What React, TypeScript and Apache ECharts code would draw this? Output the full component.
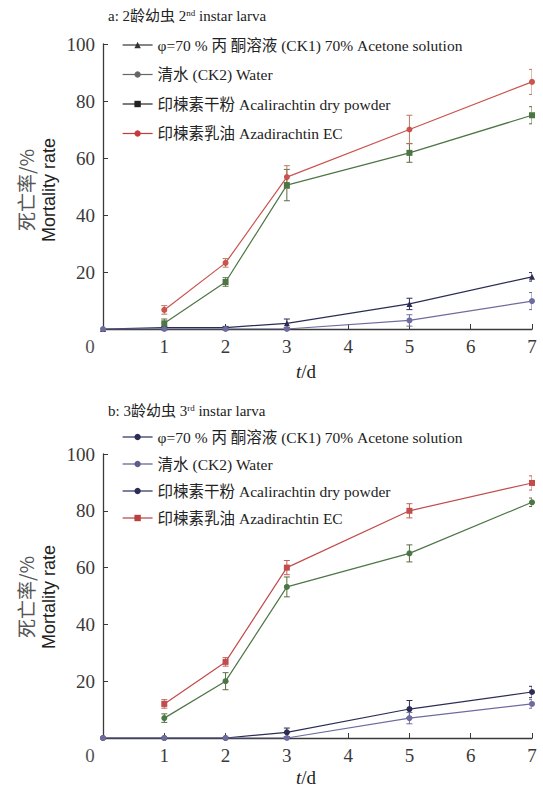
import React, { useEffect, useRef } from 'react';
import * as echarts from 'echarts';

const days = [1, 2, 3, 5, 7];
const ckDays = [0, 1, 2, 3, 5, 7];

const legendLabels = [
  'φ=70 % 丙 酮溶液 (CK1) 70% Acetone solution',
  '清水 (CK2) Water',
  '印楝素干粉 Acalirachtin dry powder',
  '印楝素乳油 Azadirachtin EC',
];

// Panel a: 2nd instar larva
const aCK1 = [0, 0.5, 0.5, 2, 8.8, 18.3];
const aCK1Err = [0, 0.4, 0.4, 1.5, 2, 1.5];
const aCK2 = [0, 0, 0, 0, 3, 9.8];
const aCK2Err = [0, 0, 0, 0.5, 2, 3];
const aPowder = [2, 16.5, 50.5, 61.8, 75];
const aPowderErr = [1.5, 1.5, 5.5, 3.3, 3];
const aEC = [6.7, 23.2, 53.3, 70, 86.7];
const aECErr = [1.5, 1.5, 4, 5, 4.4];

// Panel b: 3rd instar larva
const bCK1 = [0, 0, 0, 2, 10.2, 16.2];
const bCK1Err = [0, 0, 0, 1.5, 3, 2];
const bCK2 = [0, 0, 0, 0, 7, 12];
const bCK2Err = [0, 0, 0, 0.5, 2, 1.5];
const bPowder = [7, 20, 53.2, 65, 83];
const bPowderErr = [1.5, 3, 3.5, 3, 1.5];
const bEC = [12, 26.8, 60, 80, 89.8];
const bECErr = [1.5, 1.5, 2.5, 2.5, 2.5];

const SERIF = "'Liberation Serif', 'Noto Sans CJK SC', serif";
const SANS = "'Liberation Sans', 'DejaVu Sans', sans-serif";

function lineSeries(name: string, xs: number[], ys: number[], color: string, symbol: string, gi: number) {
  return {
    type: 'line',
    name,
    xAxisIndex: gi,
    yAxisIndex: gi,
    data: xs.map((x, i) => [x, ys[i]]),
    symbol,
    symbolSize: 6,
    lineStyle: { color, width: 1.2 },
    itemStyle: { color },
    z: 4,
  };
}

function errSeries(name: string, xs: number[], ys: number[], errs: number[], color: string, gi: number) {
  return {
    type: 'custom',
    name,
    xAxisIndex: gi,
    yAxisIndex: gi,
    silent: true,
    clip: true,
    z: 3,
    data: xs
      .map((x, i) => [x, Math.max(0, ys[i] - errs[i]), ys[i] + errs[i]])
      .filter((d) => d[2] - d[1] > 0.3),
    encode: { x: 0, y: [1, 2] },
    renderItem: (params: any, api: any) => {
      const x = api.value(0);
      const lo = api.value(1);
      const hi = api.value(2);
      const p1 = api.coord([x, lo]);
      const p2 = api.coord([x, hi]);
      const w = 3;
      const style = { stroke: color, lineWidth: 1 };
      return {
        type: 'group',
        children: [
          { type: 'line', shape: { x1: p1[0], y1: p1[1], x2: p2[0], y2: p2[1] }, style },
          { type: 'line', shape: { x1: p1[0] - w, y1: p1[1], x2: p1[0] + w, y2: p1[1] }, style },
          { type: 'line', shape: { x1: p2[0] - w, y1: p2[1], x2: p2[0] + w, y2: p2[1] }, style },
        ],
      };
    },
  };
}

function axes(gi: number) {
  const axisLine = { show: true, lineStyle: { color: '#3a3a3a', width: 1.3 } };
  const axisTick = { show: true, inside: true, length: 5, lineStyle: { color: '#3a3a3a' } };
  const label = { fontFamily: SERIF, fontSize: 19, color: '#3a3a3a', margin: 8 };
  return {
    x: {
      type: 'value', gridIndex: gi, min: 0, max: 7, interval: 1,
      axisLine, axisTick, splitLine: { show: false },
      axisLabel: { ...label, formatter: (v: number) => (v === 0 ? '' : String(v)) },
    },
    y: {
      type: 'value', gridIndex: gi, min: 0, max: 100, interval: 20,
      axisLine, axisTick, splitLine: { show: false },
      axisLabel: { ...label, formatter: (v: number) => (v === 0 ? '' : String(v)) },
    },
  };
}

const App = () => {
  const ref = useRef<HTMLDivElement>(null);
  useEffect(() => {
    if (!ref.current) return;
    const chart = echarts.init(ref.current, undefined, { renderer: 'svg' });
    const ax0 = axes(0);
    const ax1 = axes(1);

    const aColors = { ck1: '#2b2d55', ck2: '#6e6c9e', powder: '#4d7645', ec: '#c9534f' };
    const bColors = { ck1: '#2b2d55', ck2: '#6e6c9e', powder: '#4d7645', ec: '#c24b4b' };

    const series: any[] = [
      errSeries('a-e1', ckDays, aCK1, aCK1Err, '#2b2d55', 0),
      errSeries('a-e2', ckDays, aCK2, aCK2Err, '#6e6c9e', 0),
      errSeries('a-e3', days, aPowder, aPowderErr, '#5a6e40', 0),
      errSeries('a-e4', days, aEC, aECErr, '#b87a5e', 0),
      lineSeries('a:' + legendLabels[0], ckDays, aCK1, aColors.ck1, 'triangle', 0),
      lineSeries('a:' + legendLabels[1], ckDays, aCK2, aColors.ck2, 'circle', 0),
      lineSeries('a:' + legendLabels[2], days, aPowder, aColors.powder, 'rect', 0),
      lineSeries('a:' + legendLabels[3], days, aEC, aColors.ec, 'circle', 0),
      errSeries('b-e1', ckDays, bCK1, bCK1Err, '#2b2d55', 1),
      errSeries('b-e2', ckDays, bCK2, bCK2Err, '#6e6c9e', 1),
      errSeries('b-e3', days, bPowder, bPowderErr, '#5a6e40', 1),
      errSeries('b-e4', days, bEC, bECErr, '#c0605a', 1),
      lineSeries('b:' + legendLabels[0], ckDays, bCK1, bColors.ck1, 'circle', 1),
      lineSeries('b:' + legendLabels[1], ckDays, bCK2, bColors.ck2, 'circle', 1),
      lineSeries('b:' + legendLabels[2], days, bPowder, bColors.powder, 'circle', 1),
      lineSeries('b:' + legendLabels[3], days, bEC, bColors.ec, 'rect', 1),
    ];

    const legendText = { fontFamily: SERIF, fontSize: 15.5, color: '#222', lineHeight: 16 };
    const aLegendColors = ['#333333', '#666666', '#222222', '#c83a3a'];
    const bLegendColors = ['#2a2d5a', '#5c5b8c', '#2a2d5a', '#b84040'];

    const mkLegend = (prefix: string, top: number, gap: number, colors: string[]) => ({
      orient: 'vertical',
      left: 117,
      top,
      itemWidth: 30,
      itemHeight: 8,
      itemGap: gap,
      selectedMode: false,
      formatter: (n: string) => n.slice(2),
      textStyle: legendText,
      data: legendLabels.map((l, i) => ({
        name: prefix + l,
        itemStyle: { color: colors[i] },
        lineStyle: { color: colors[i], width: 1.2 },
      })),
    });

    const ylabel = (cy: number) => [
      {
        type: 'text', x: 25, y: cy, rotation: Math.PI / 2,
        style: { text: '死亡率/%', fontFamily: "'Noto Sans CJK SC', sans-serif", fontSize: 19, fill: '#555', align: 'center', verticalAlign: 'middle' },
      },
      {
        type: 'text', x: 49, y: cy, rotation: Math.PI / 2,
        style: { text: 'Mortality rate', fontFamily: SANS, fontSize: 18, fill: '#222', align: 'center', verticalAlign: 'middle' },
      },
    ];

    const title = (prefix: string, sup: string, rest: string, y: number) => ({
      type: 'text', x: 108, y,
      style: {
        text: prefix + '{sup|' + sup + '}' + rest,
        fontFamily: SERIF, fontSize: 15, fill: '#222', verticalAlign: 'middle',
        rich: { sup: { fontFamily: SERIF, fontSize: 9, fill: '#222', verticalAlign: 'top' } },
      },
    });

    const tLabel = (y: number) => ({
      type: 'text', x: 306, y,
      style: {
        text: '{i|t}/d', fontFamily: SERIF, fontSize: 19, fill: '#222', align: 'center', verticalAlign: 'middle',
        rich: { i: { fontFamily: SERIF, fontSize: 19, fontStyle: 'italic', fill: '#222' } },
      },
    });

    const zero = (y: number) => ({
      type: 'text', x: 90, y,
      style: { text: '0', fontFamily: SERIF, fontSize: 19, fill: '#555', align: 'center', verticalAlign: 'middle' },
    });

    chart.setOption({
      animation: false,
      backgroundColor: '#ffffff',
      grid: [
        { left: 103, top: 44, width: 429, height: 285 },
        { left: 103, top: 454, width: 429, height: 284 },
      ],
      xAxis: [ax0.x, ax1.x],
      yAxis: [ax0.y, ax1.y],
      legend: [mkLegend('a:', 32, 13.5, aLegendColors), mkLegend('b:', 424, 11, bLegendColors)],
      graphic: [
        title('a: 2龄幼虫 2', 'nd', ' instar larva', 16),
        title('b: 3龄幼虫 3', 'rd', ' instar larva', 411),
        ...ylabel(190),
        ...ylabel(597),
        tLabel(371),
        tLabel(777),
        zero(346),
        zero(755),
      ],
      series,
    });
    return () => chart.dispose();
  }, []);
  return <div ref={ref} style={{ position: 'fixed', left: 0, top: 0, width: 543, height: 786 }} />;
};

export default App;
